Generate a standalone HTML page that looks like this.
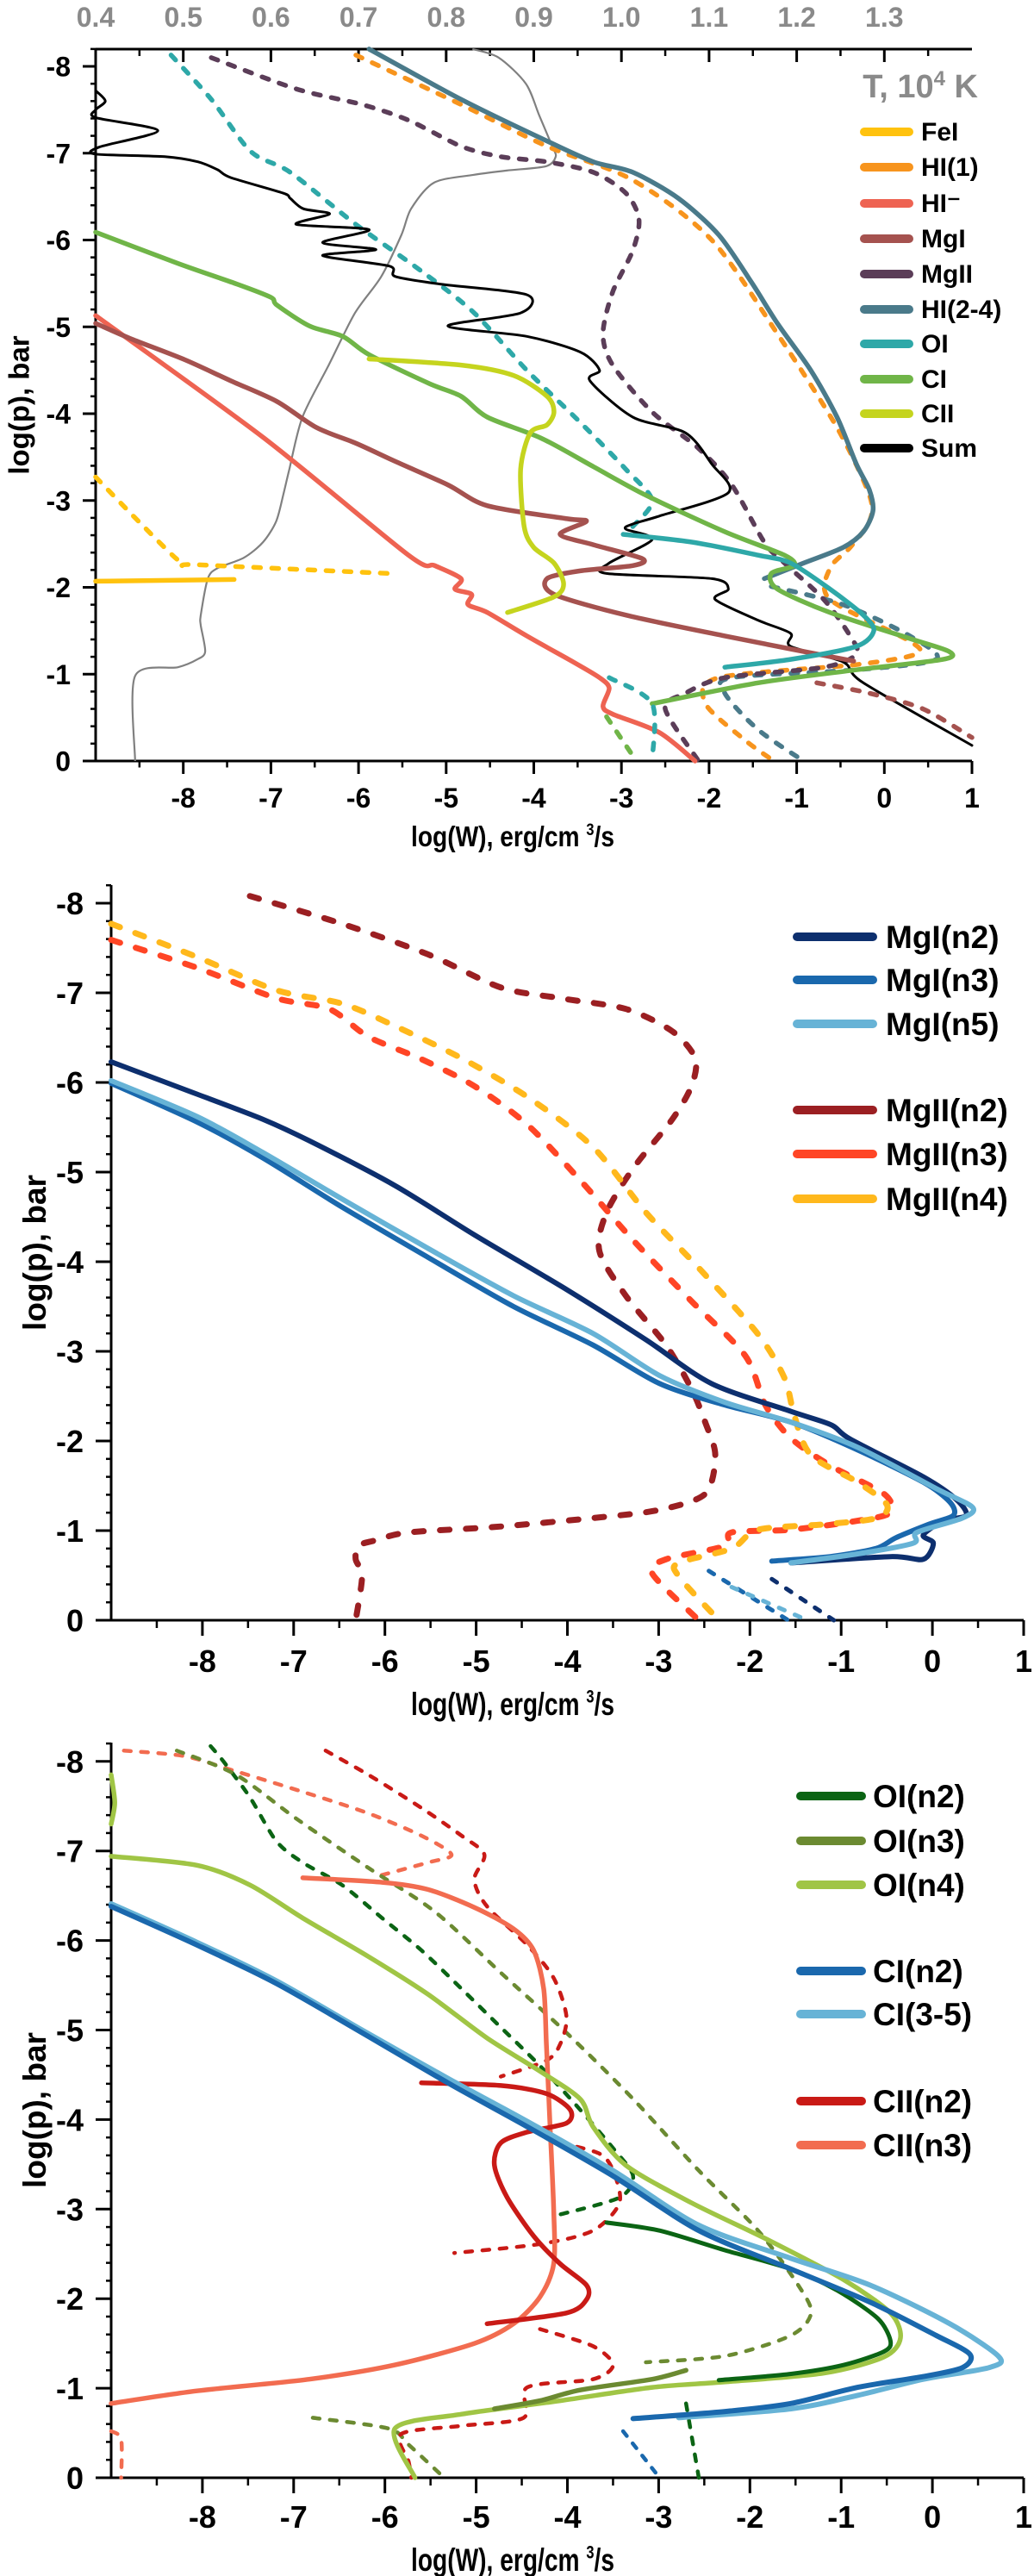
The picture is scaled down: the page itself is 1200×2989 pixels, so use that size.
<!DOCTYPE html>
<html><head><meta charset="utf-8"><title>Radiative losses vs pressure</title>
<style>
html,body{margin:0;padding:0;background:#fff;}
svg{display:block;font-family:"Liberation Sans",Arial,sans-serif;font-weight:bold;}
</style></head>
<body>
<svg id="chart" width="1200" height="2989" viewBox="0 0 1200 2989" xmlns="http://www.w3.org/2000/svg"></svg>
<script>
// ---------- Panel 1 data: [logW, logp] ----------
const tempT = [0.445,0.445,0.494,0.516,0.525,0.52,0.52,0.528,0.539,0.569,0.591,0.606,0.614,0.621,0.636,0.666,0.696,0.726,0.749,0.76,0.786,0.831,0.869,0.914,0.925,0.921,0.906,0.891,0.86,0.83];
const tempP = [0,-0.98,-1.08,-1.17,-1.26,-1.56,-1.68,-2.1,-2.22,-2.34,-2.52,-2.76,-3.06,-3.36,-3.96,-4.56,-5.16,-5.58,-6.06,-6.36,-6.66,-6.75,-6.8,-6.85,-6.96,-7.08,-7.44,-7.8,-8.1,-8.2];
const tTicks = [0.4,0.5,0.6,0.7,0.8,0.9,1.0,1.1,1.2,1.3];
const tTickLabels = ["0.4","0.5","0.6","0.7","0.8","0.9","1.0","1.1","1.2","1.3"];
const xTickVals = [-8,-7,-6,-5,-4,-3,-2,-1,0,1];
const yTickVals = [-8,-7,-6,-5,-4,-3,-2,-1,0];

const hiMinus = [[-9,-5.13],[-7.08,-3.72],[-5.43,-2.37],[-5.13,-2.25],[-4.83,-2.1],[-4.9,-1.98],[-4.71,-1.92],[-4.75,-1.8],[-4.53,-1.71],[-4.08,-1.44],[-3.55,-1.14],[-3.25,-0.96],[-3.14,-0.84],[-3.21,-0.63],[-3.1,-0.54],[-2.57,-0.33],[-2.16,0]];
const mgI = [[-9,-5.04],[-8.59,-4.86],[-7.98,-4.62],[-7.46,-4.38],[-6.93,-4.14],[-6.48,-3.84],[-6.03,-3.66],[-5.58,-3.45],[-4.98,-3.18],[-4.53,-2.94],[-3.62,-2.79],[-3.4,-2.76],[-3.7,-2.61],[-3.32,-2.49],[-2.76,-2.33],[-2.87,-2.25],[-3.47,-2.19],[-3.85,-2.1],[-3.77,-1.92],[-2.95,-1.68],[-1.82,-1.44],[-1.07,-1.29],[-0.35,-1.15]];
const mgIDash = [[-0.77,-0.9],[-0.17,-0.78],[0.44,-0.6],[1,-0.27]];
const cI = [[-9,-6.09],[-8.06,-5.73],[-7.38,-5.49],[-7,-5.34],[-6.93,-5.25],[-6.56,-5.01],[-6.18,-4.89],[-5.88,-4.68],[-5.2,-4.35],[-4.83,-4.2],[-4.53,-3.96],[-3.92,-3.72],[-3.32,-3.39],[-2.72,-3.06],[-1.82,-2.64],[-1.14,-2.37],[-1.03,-2.25],[-1.29,-2.16],[-1.22,-1.98],[-0.62,-1.71],[0.29,-1.41],[0.74,-1.26],[0.67,-1.17],[-0.32,-1.05],[-1.44,-0.9],[-2.65,-0.66]];
const cIDash = [[-3.17,-0.51],[-2.83,0]];
const cII = [[-5.88,-4.63],[-4.83,-4.56],[-4.23,-4.44],[-3.85,-4.2],[-3.77,-4.02],[-3.85,-3.87],[-4.04,-3.78],[-4.15,-3.36],[-4.11,-2.7],[-4,-2.46],[-3.77,-2.28],[-3.66,-2.04],[-3.77,-1.89],[-4.3,-1.71]];
const feI = [[-9,-2.07],[-7.42,-2.09]];
const feIDash = [[-9,-3.27],[-8.51,-2.76],[-8.02,-2.28],[-7.83,-2.26],[-5.65,-2.16]];
const sumLine = [[-9,-7.72],[-8.89,-7.6],[-9,-7.5],[-9,-7.41],[-8.29,-7.26],[-8.96,-7.07],[-9,-6.99],[-8.21,-6.96],[-7.83,-6.9],[-7.61,-6.81],[-7.46,-6.72],[-6.86,-6.54],[-6.78,-6.48],[-6.63,-6.36],[-6.33,-6.3],[-6.71,-6.18],[-5.88,-6.12],[-6.41,-5.97],[-5.8,-5.89],[-6.41,-5.82],[-5.65,-5.7],[-5.58,-5.58],[-5.05,-5.49],[-4.08,-5.37],[-4.15,-5.16],[-4.98,-5.01],[-4.08,-4.89],[-3.47,-4.71],[-3.25,-4.5],[-3.36,-4.38],[-2.87,-3.96],[-2.27,-3.78],[-1.97,-3.42],[-1.78,-3.09],[-2.57,-2.82],[-2.87,-2.73],[-2.95,-2.67],[-2.65,-2.55],[-3.14,-2.28],[-3.17,-2.16],[-1.97,-2.1],[-1.78,-1.98],[-1.93,-1.86],[-1.44,-1.62],[-1.07,-1.47],[-1.07,-1.32],[-0.47,-1.14],[-0.24,-0.9],[1,-0.18]];
const oI = [[-2.98,-2.61],[-2.19,-2.52],[-1.44,-2.37],[-1.07,-2.28],[-0.62,-1.98],[-0.24,-1.68],[-0.12,-1.5],[-0.32,-1.32],[-1.07,-1.17],[-1.82,-1.08]];
const oIDash = [[-8.14,-8.13],[-7.68,-7.62],[-7.23,-7.02],[-6.78,-6.78],[-6.03,-6.18],[-5.28,-5.64],[-4.68,-5.16],[-4.08,-4.5],[-3.47,-3.9],[-2.95,-3.36],[-2.65,-3],[-2.87,-2.7]];
const oIDashLow = [[-3.14,-0.96],[-2.65,-0.66],[-2.65,0]];
const mgIIDash = [[-7.68,-8.1],[-6.71,-7.74],[-5.96,-7.56],[-5.43,-7.38],[-4.83,-7.08],[-4.38,-6.96],[-3.85,-6.9],[-3.32,-6.78],[-2.95,-6.54],[-2.8,-6.24],[-2.87,-5.88],[-3.1,-5.4],[-3.21,-4.92],[-3.1,-4.56],[-2.65,-4.02],[-2.12,-3.6],[-1.74,-3.18],[-1.37,-2.52],[-1.14,-2.28],[-0.69,-1.86],[-0.39,-1.44],[-0.32,-1.23],[-0.69,-1.08],[-1.82,-0.96],[-2.27,-0.78],[-2.5,-0.6],[-2.12,0]];
const hi24 = [[-5.88,-8.2],[-4.83,-7.62],[-3.85,-7.14],[-3.32,-6.9],[-2.87,-6.78],[-2.35,-6.48],[-1.89,-6.06],[-1.52,-5.52],[-1.22,-5.04],[-0.84,-4.5],[-0.54,-3.96],[-0.32,-3.42],[-0.17,-3.12],[-0.13,-2.88],[-0.24,-2.64],[-0.47,-2.46],[-0.92,-2.28],[-1.37,-2.1]];
const hi24Dash = [[-1.29,-2.01],[-0.47,-1.8],[0.29,-1.44],[0.59,-1.17],[-0.32,-1.05],[-1.74,-0.96],[-1.82,-0.78],[-1.44,-0.36],[-0.92,0]];
const hi1Dash = [[-6.03,-8.13],[-4.83,-7.56],[-3.85,-7.08],[-2.87,-6.69],[-1.97,-6],[-1.22,-4.92],[-0.54,-3.84],[-0.17,-3.06],[-0.17,-2.76],[-0.39,-2.46],[-0.62,-2.22],[-0.62,-1.86],[0.29,-1.38],[0.36,-1.23],[-0.32,-1.11],[-1.89,-0.96],[-2.04,-0.66],[-1.59,-0.24],[-1.26,0]];

// ---------- Panel 2 data ----------
const mgIn2 = [[-9,-6.23],[-8.06,-5.87],[-7.34,-5.59],[-6.83,-5.35],[-5.89,-4.85],[-5.02,-4.3],[-4.01,-3.69],[-3.14,-3.13],[-2.42,-2.64],[-1.55,-2.33],[-1.11,-2.18],[-0.9,-2.02],[-0.1,-1.6],[0.26,-1.35],[0.37,-1.17],[0.12,-1.11],[-0.1,-0.95],[0.01,-0.86],[-0.1,-0.68],[-0.46,-0.71],[-1.55,-0.64]];
const mgIn2Dash = [[-1.76,-0.46],[-1.08,0]];
const mgIn3 = [[-9,-5.99],[-8.06,-5.56],[-7.34,-5.16],[-6.47,-4.61],[-5.53,-4.05],[-4.59,-3.5],[-3.72,-3.07],[-2.99,-2.64],[-2.27,-2.4],[-1.55,-2.21],[-0.82,-1.9],[-0.1,-1.54],[0.19,-1.32],[0.23,-1.17],[-0.04,-1.07],[-0.4,-0.92],[-0.62,-0.8],[-1.12,-0.71],[-1.76,-0.66]];
const mgIn3Dash = [[-2.45,-0.55],[-1.58,0]];
const mgIn5 = [[-9,-6.02],[-8.06,-5.62],[-7.34,-5.22],[-6.47,-4.7],[-5.53,-4.15],[-4.59,-3.62],[-3.72,-3.2],[-2.99,-2.73],[-2.27,-2.43],[-1.55,-2.21],[-0.82,-1.93],[0.04,-1.47],[0.44,-1.26],[0.33,-1.14],[-0.17,-0.98],[-0.21,-0.86],[-0.82,-0.74],[-1.55,-0.64]];
const mgIn5Dash = [[-2.2,-0.37],[-1.37,0]];
const mgIIn2 = [[-7.48,-8.08],[-6.47,-7.77],[-5.53,-7.43],[-4.73,-7.06],[-4.08,-6.94],[-3.36,-6.82],[-2.85,-6.57],[-2.6,-6.27],[-2.64,-5.96],[-2.85,-5.59],[-3.28,-5.04],[-3.57,-4.55],[-3.65,-4.12],[-3.36,-3.62],[-2.92,-3.07],[-2.64,-2.58],[-2.49,-2.21],[-2.38,-1.84],[-2.49,-1.41],[-3,-1.23],[-3.72,-1.14],[-4.8,-1.04],[-5.74,-0.98],[-6.11,-0.89],[-6.29,-0.83],[-6.32,-0.68],[-6.25,-0.49],[-6.32,0]];
const mgIIn3 = [[-9,-7.59],[-8.06,-7.28],[-7.19,-6.94],[-6.61,-6.82],[-6.18,-6.51],[-5.6,-6.26],[-5.02,-5.96],[-4.44,-5.53],[-3.86,-4.91],[-3.28,-4.24],[-2.64,-3.56],[-2.05,-2.95],[-1.83,-2.4],[-1.55,-2.03],[-1.11,-1.72],[-0.53,-1.41],[-0.46,-1.2],[-0.82,-1.11],[-1.55,-1.01],[-2.2,-0.98],[-2.27,-0.83],[-2.92,-0.68],[-3.07,-0.52],[-2.56,0]];
const mgIIn4 = [[-9,-7.77],[-8.06,-7.4],[-7.19,-7.03],[-6.47,-6.88],[-5.89,-6.63],[-5.16,-6.27],[-4.44,-5.84],[-3.72,-5.28],[-3.14,-4.55],[-2.56,-3.93],[-1.91,-3.19],[-1.62,-2.7],[-1.51,-2.27],[-1.33,-1.84],[-0.82,-1.54],[-0.5,-1.29],[-0.61,-1.14],[-1.18,-1.07],[-1.91,-1.01],[-2.2,-0.8],[-2.78,-0.64],[-2.78,-0.49],[-2.34,0]];

// ---------- Panel 3 data ----------
const oIn2 = [[-3.57,-2.85],[-2.99,-2.76],[-2.27,-2.54],[-1.55,-2.33],[-1.04,-2.09],[-0.6,-1.78],[-0.46,-1.53],[-0.53,-1.41],[-0.97,-1.26],[-1.55,-1.16],[-2.34,-1.09]];
const oIn2Dash = [[-7.91,-8.17],[-7.77,-8.0],[-7.48,-7.6],[-7.19,-7.11],[-6.9,-6.87],[-6.47,-6.62],[-6.03,-6.25],[-5.6,-5.89],[-5.16,-5.46],[-4.73,-5.03],[-4.3,-4.6],[-3.86,-4.11],[-3.5,-3.68],[-3.28,-3.37],[-3.43,-3.13],[-4.08,-2.94]];
const oIn2DashLow = [[-2.7,-0.83],[-2.56,0]];
const oIn3Dash = [[-8.28,-8.12],[-7.63,-7.85],[-6.97,-7.36],[-6.18,-6.81],[-5.45,-6.32],[-4.73,-5.64],[-4.01,-4.97],[-3.28,-4.23],[-2.56,-3.43],[-1.91,-2.76],[-1.47,-2.15],[-1.33,-1.84],[-1.55,-1.59],[-2.27,-1.36],[-3.14,-1.29]];
const oIn3 = [[-2.7,-1.2],[-3.07,-1.1],[-3.86,-0.98],[-4.3,-0.86],[-4.8,-0.77]];
const oIn3DashLow = [[-6.79,-0.67],[-5.96,-0.55],[-5.74,-0.37],[-5.35,0]];
const oIn4Top = [[-9,-7.85],[-8.96,-7.54],[-9,-7.3]];
const oIn4 = [[-9,-6.94],[-8.06,-6.84],[-7.48,-6.62],[-6.9,-6.25],[-6.18,-5.82],[-5.53,-5.4],[-4.88,-4.91],[-4.3,-4.54],[-3.86,-4.23],[-3.72,-3.92],[-3.36,-3.49],[-2.64,-3.07],[-1.77,-2.64],[-0.97,-2.21],[-0.46,-1.84],[-0.35,-1.56],[-0.53,-1.35],[-1.18,-1.17],[-2.27,-1.07],[-3.07,-1.01],[-4.08,-0.86],[-5.16,-0.71],[-5.89,-0.55],[-5.67,0]];
const cIn2 = [[-9,-6.38],[-8.06,-5.95],[-7.19,-5.52],[-6.25,-4.97],[-5.31,-4.41],[-4.44,-3.92],[-3.5,-3.37],[-2.56,-2.76],[-1.55,-2.33],[-0.68,-1.96],[0.04,-1.59],[0.41,-1.38],[0.33,-1.23],[-0.1,-1.13],[-0.82,-1.01],[-1.55,-0.83],[-2.27,-0.74],[-3.28,-0.66]];
const cIn2Dash = [[-3.39,-0.52],[-2.99,0]];
const cI35 = [[-9,-6.41],[-8.06,-5.98],[-7.19,-5.55],[-6.25,-5.0],[-5.31,-4.46],[-4.44,-3.98],[-3.5,-3.43],[-2.56,-2.82],[-1.55,-2.45],[-0.68,-2.15],[0.19,-1.72],[0.73,-1.35],[0.62,-1.23],[-0.1,-1.1],[-0.82,-0.92],[-1.55,-0.77],[-2.78,-0.67]];
const cIIn2 = [[-5.6,-4.41],[-4.73,-4.38],[-4.23,-4.29],[-3.97,-4.11],[-4.01,-3.96],[-4.44,-3.86],[-4.73,-3.74],[-4.8,-3.49],[-4.66,-3.13],[-4.37,-2.7],[-4.08,-2.39],[-3.79,-2.15],[-3.79,-1.99],[-4.01,-1.84],[-4.88,-1.72]];
const cIIn2DashTop = [[-6.65,-8.12],[-6.18,-7.85],[-5.6,-7.48],[-5.16,-7.17],[-4.91,-6.96],[-5.02,-6.68],[-4.88,-6.38],[-4.44,-5.95],[-4.15,-5.58],[-4.01,-5.15],[-4.08,-4.84],[-4.23,-4.66],[-4.73,-4.48]];
const cIIn2DashMid = [[-4.08,-3.74],[-3.65,-3.62],[-3.5,-3.43],[-3.43,-3.07],[-3.72,-2.76],[-4.3,-2.61],[-5.24,-2.51]];
const cIIn2DashLow = [[-4.3,-1.66],[-3.72,-1.47],[-3.5,-1.26],[-3.72,-1.1],[-4.44,-1.01],[-4.48,-0.67],[-5.16,-0.58],[-5.82,-0.49],[-5.74,-0.18],[-5.71,0]];
const cIIn3 = [[-6.9,-6.7],[-6.03,-6.65],[-5.53,-6.57],[-5.02,-6.37],[-4.59,-6.13],[-4.37,-5.89],[-4.26,-5.46],[-4.23,-4.84],[-4.19,-3.92],[-4.15,-2.99],[-4.15,-2.39],[-4.3,-2.02],[-4.59,-1.72],[-5.02,-1.5],[-5.89,-1.26],[-6.83,-1.1],[-8.06,-0.97],[-9,-0.83]];
const cIIn3DashTop = [[-8.86,-8.12],[-8.2,-8.06],[-7.7,-7.91],[-6.9,-7.66],[-6.18,-7.42],[-5.6,-7.17],[-5.27,-6.96],[-5.53,-6.87],[-6.11,-6.71]];
const cIIn3DashLow = [[-9,-0.52],[-8.89,-0.43],[-8.89,0]];

// ---------- Legends ----------
const legend1Names = ["FeI","HI(1)","HI\u207B","MgI","MgII","HI(2-4)","OI","CI","CII","Sum"];
const legend1Colors = ["#ffc20e","#f7941d","#ee6352","#a5524f","#5b3d58","#4a7a8a","#2ea8a8","#70b548","#c5d41e","#000"];
const legend2Names = ["MgI(n2)","MgI(n3)","MgI(n5)","MgII(n2)","MgII(n3)","MgII(n4)"];
const legend2Colors = ["#0d2f6e","#1a68ad","#67b3d6","#9b1f22","#ff4525","#ffb81c"];
const legend3Names = ["OI(n2)","OI(n3)","OI(n4)","CI(n2)","CI(3-5)","CII(n2)","CII(n3)"];
const legend3Colors = ["#0b6414","#6b8a31","#a0c545","#1a68ad","#67b3d6","#c91a16","#f26c50"];

const NS = "http://www.w3.org/2000/svg";
const svg = document.getElementById("chart");
const P = {
  p1:{x0:111,x1:1128,yZero:883,yPer:100.75,top:57,tick:15,font:32,lab:29,tickBase:937,title:982,ylabX:22},
  p2:{x0:129,x1:1188,yZero:1880,yPer:104,top:1027,tick:18,font:36,lab:32,tickBase:1940,title:1990,ylabX:40},
  p3:{x0:129,x1:1188,yZero:2875,yPer:103.9,top:2022,tick:18,font:36,lab:32,tickBase:2933,title:2983,ylabX:40}
};
function X(p,v){return p.x0+(v+9)*(p.x1-p.x0)/10;}
function Y(p,v){return p.yZero+v*p.yPer;}
function TX(t){return X(P.p1,-9+(t-0.4)*10);}

function mk(tag,attrs,parent){const e=document.createElementNS(NS,tag);for(const k in attrs)e.setAttribute(k,attrs[k]);(parent||svg).appendChild(e);return e;}

function smoothPath(xy){
  if(xy.length<3) return xy.map((q,i)=>(i?"L":"M")+q[0].toFixed(1)+","+q[1].toFixed(1)).join(" ");
  let d="M"+xy[0][0].toFixed(1)+","+xy[0][1].toFixed(1);
  const k=1/6*0.85;
  for(let i=0;i<xy.length-1;i++){
    const p0=xy[Math.max(0,i-1)],p1=xy[i],p2=xy[i+1],p3=xy[Math.min(xy.length-1,i+2)];
    const c1x=p1[0]+(p2[0]-p0[0])*k,c1y=p1[1]+(p2[1]-p0[1])*k;
    const c2x=p2[0]-(p3[0]-p1[0])*k,c2y=p2[1]-(p3[1]-p1[1])*k;
    d+=" C"+c1x.toFixed(1)+","+c1y.toFixed(1)+" "+c2x.toFixed(1)+","+c2y.toFixed(1)+" "+p2[0].toFixed(1)+","+p2[1].toFixed(1);
  }
  return d;
}
function series(p,pts,color,w,dash,name){
  const d=smoothPath(pts.map(q=>[X(p,q[0]),Y(p,q[1])]));
  const el=mk("path",{d:d,fill:"none",stroke:color,"stroke-width":w,"stroke-linejoin":"round","stroke-linecap":"round"});
  if(dash) el.setAttribute("stroke-dasharray",dash);
  
  
}
function text(x,y,s,size,anchor,fill,name,len){
  const t=mk("text",{x:x,y:y,"font-size":size,"text-anchor":anchor||"start",fill:fill||"#000"});
  t.textContent=s;
  if(len){t.setAttribute("textLength",len);t.setAttribute("lengthAdjust","spacingAndGlyphs");}
  
  
  return t;
}
function axes(p,key){
  const g=mk("g",{stroke:"#000","stroke-width":3,fill:"none"});
  
  
  mk("line",{x1:p.x0,y1:p.top,x2:p.x0,y2:p.yZero},g);
  mk("line",{x1:p.x0-p.tick,y1:p.yZero,x2:p.x1,y2:p.yZero},g);
  yTickVals.forEach(v=>{mk("line",{x1:p.x0-p.tick,y1:Y(p,v),x2:p.x0,y2:Y(p,v)},g);});
  for(let v=-8.2;v<0;v+=0.2){if(Math.abs(v-Math.round(v))>0.05)mk("line",{x1:p.x0-6,y1:Y(p,v),x2:p.x0,y2:Y(p,v),"stroke-width":2.5},g);}
  xTickVals.forEach(v=>{mk("line",{x1:X(p,v),y1:p.yZero,x2:X(p,v),y2:p.yZero+p.tick},g);});
  for(let v=-8.5;v<1;v+=1){mk("line",{x1:X(p,v),y1:p.yZero,x2:X(p,v),y2:p.yZero+p.tick/2,"stroke-width":2.5},g);}
  yTickVals.forEach(v=>{text(p.x0-p.lab,Y(p,v)+p.font*0.36,String(v),p.font,"end","#000",key+"-y-tick-label");});
  xTickVals.forEach(v=>{text(X(p,v),p.tickBase,String(v),p.font,"middle","#000",key+"-x-tick-label");});
  const t=text(595,p.title,"",p.font+1,"middle","#000",key+"-x-axis-title",236);
  const a=document.createElementNS(NS,"tspan");a.textContent="log(W), erg/cm ";t.appendChild(a);
  const b=document.createElementNS(NS,"tspan");b.textContent="3";b.setAttribute("font-size",p.font*0.6);b.setAttribute("dy",-p.font*0.4);t.appendChild(b);
  const c=document.createElementNS(NS,"tspan");c.textContent="/s";c.setAttribute("dy",p.font*0.4);t.appendChild(c);
  const yc=(p.top+p.yZero)/2;
  const yt=text(0,0,"log(p), bar",p.font+1,"middle","#000",key+"-y-axis-title");
  yt.setAttribute("transform","translate("+(p.ylabX+p.font*0.36)+","+yc+") rotate(-90)");
}

// ---------- Panel 1 ----------
const p1=P.p1;
axes(p1,"p1");
(function(){
  const g=mk("g",{stroke:"#000","stroke-width":3});
  
  
  mk("line",{x1:p1.x0,y1:p1.top,x2:p1.x1,y2:p1.top},g);
  tTicks.forEach(t=>{mk("line",{x1:TX(t),y1:p1.top,x2:TX(t),y2:p1.top+15},g);});
  tTicks.forEach(t=>{if(TX(t+0.05)<p1.x1)mk("line",{x1:TX(t+0.05),y1:p1.top,x2:TX(t+0.05),y2:p1.top+8,"stroke-width":2.5},g);});
  tTicks.forEach((t,i)=>{text(TX(t),31,tTickLabels[i],32,"middle","#8a8a8a","temperature-tick-label");});
})();
(function(){
  const d=smoothPath(tempT.map((t,i)=>[TX(t),Y(p1,tempP[i])]));
  const el=mk("path",{d:d,fill:"none",stroke:"#808080","stroke-width":2.2});
  
  
})();
const D1="8 13";
series(p1,hi1Dash,"#f7941d",5.5,D1,"hi1-dashed");
series(p1,hi24,"#4a7a8a",5.5,null,"hi24-solid");
series(p1,hi24Dash,"#4a7a8a",5.5,D1,"hi24-dashed");
series(p1,mgIIDash,"#5b3d58",5.5,D1,"mgii-dashed");
series(p1,oIDash,"#2ea8a8",5.5,D1,"oi-dashed");
series(p1,sumLine,"#000",3,null,"sum-line");
series(p1,hiMinus,"#ee6352",5.5,null,"hi-minus-line");
series(p1,mgI,"#a5524f",5.5,null,"mgi-solid");
series(p1,mgIDash,"#a5524f",5.5,D1,"mgi-dashed");
series(p1,cI,"#70b548",5.5,null,"ci-solid");
series(p1,cIDash,"#70b548",5.5,D1,"ci-dashed");
series(p1,cII,"#c5d41e",5.5,null,"cii-solid");
series(p1,oI,"#2ea8a8",5.5,null,"oi-solid");
series(p1,oIDashLow,"#2ea8a8",5.5,D1,"oi-dashed-low");
series(p1,feI,"#ffc20e",5.5,null,"fei-solid");
series(p1,feIDash,"#ffc20e",5.5,D1,"fei-dashed");
text(1135,113,"",38,"end","#8a8a8a","temperature-axis-title");
(function(){
  const t=svg.lastChild;
  const a=document.createElementNS(NS,"tspan");a.textContent="T, 10";t.appendChild(a);
  const b=document.createElementNS(NS,"tspan");b.textContent="4";b.setAttribute("font-size",24);b.setAttribute("dy",-14);t.appendChild(b);
  const c=document.createElementNS(NS,"tspan");c.textContent=" K";c.setAttribute("dy",14);t.appendChild(c);
})();
const leg1Y=[153,194,236,277,318,359,399,440,480,520];
legend1Names.forEach((n,i)=>{
  const l=mk("line",{x1:1003,y1:leg1Y[i],x2:1055,y2:leg1Y[i],stroke:legend1Colors[i],"stroke-width":10,"stroke-linecap":"round"});
  
  
  text(1069,leg1Y[i]+10,n,30,"start","#000","legend-entry");
});

// ---------- Panel 2 ----------
const p2=P.p2;
axes(p2,"p2");
const D2="11 19";
series(p2,mgIIn2,"#9b1f22",7,D2,"mgii-n2-dashed");
series(p2,mgIIn3,"#ff4525",7,D2,"mgii-n3-dashed");
series(p2,mgIIn4,"#ffb81c",7,D2,"mgii-n4-dashed");
series(p2,mgIn2,"#0d2f6e",6,null,"mgi-n2-line");
series(p2,mgIn2Dash,"#0d2f6e",5,"7 13","mgi-n2-dashed");
series(p2,mgIn3,"#1a68ad",6,null,"mgi-n3-line");
series(p2,mgIn3Dash,"#1a68ad",5,"7 13","mgi-n3-dashed");
series(p2,mgIn5,"#67b3d6",6,null,"mgi-n5-line");
series(p2,mgIn5Dash,"#67b3d6",5,"7 13","mgi-n5-dashed");
const leg2Y=[1087,1137,1188,1288,1339,1391];
legend2Names.forEach((n,i)=>{
  const l=mk("line",{x1:925,y1:leg2Y[i],x2:1013,y2:leg2Y[i],stroke:legend2Colors[i],"stroke-width":10,"stroke-linecap":"round"});
  
  
  text(1028,leg2Y[i]+13,n,37,"start","#000","legend-entry");
});

// ---------- Panel 3 ----------
const p3=P.p3;
axes(p3,"p3");
const D3="8 12";
series(p3,cIIn3DashTop,"#f26c50",4.5,D3,"cii-n3-dashed-top");
series(p3,cIIn3DashLow,"#f26c50",4.5,D3,"cii-n3-dashed-low");
series(p3,oIn2Dash,"#0b6414",4.5,D3,"oi-n2-dashed");
series(p3,oIn2DashLow,"#0b6414",4.5,D3,"oi-n2-dashed-low");
series(p3,oIn3Dash,"#6b8a31",4.5,D3,"oi-n3-dashed");
series(p3,oIn3DashLow,"#6b8a31",4.5,D3,"oi-n3-dashed-low");
series(p3,cIIn2DashTop,"#c91a16",4.5,D3,"cii-n2-dashed-top");
series(p3,cIIn2DashMid,"#c91a16",4.5,D3,"cii-n2-dashed-mid");
series(p3,cIIn2DashLow,"#c91a16",4.5,D3,"cii-n2-dashed-low");
series(p3,cIn2Dash,"#1a68ad",4.5,"7 11","ci-n2-dashed");
series(p3,cIIn3,"#f26c50",5.5,null,"cii-n3-line");
series(p3,cIIn2,"#c91a16",5.5,null,"cii-n2-line");
series(p3,oIn4Top,"#a0c545",5.5,null,"oi-n4-top");
series(p3,oIn4,"#a0c545",5.5,null,"oi-n4-line");
series(p3,oIn3,"#6b8a31",5.5,null,"oi-n3-line");
series(p3,oIn2,"#0b6414",5,null,"oi-n2-line");
series(p3,cI35,"#67b3d6",6,null,"ci-35-line");
series(p3,cIn2,"#1a68ad",6,null,"ci-n2-line");
const leg3Y=[2084,2136,2187,2287,2337,2438,2489];
legend3Names.forEach((n,i)=>{
  const l=mk("line",{x1:929,y1:leg3Y[i],x2:1000,y2:leg3Y[i],stroke:legend3Colors[i],"stroke-width":10,"stroke-linecap":"round"});
  
  
  text(1013,leg3Y[i]+13,n,37,"start","#000","legend-entry");
});
</script>
</body></html>
